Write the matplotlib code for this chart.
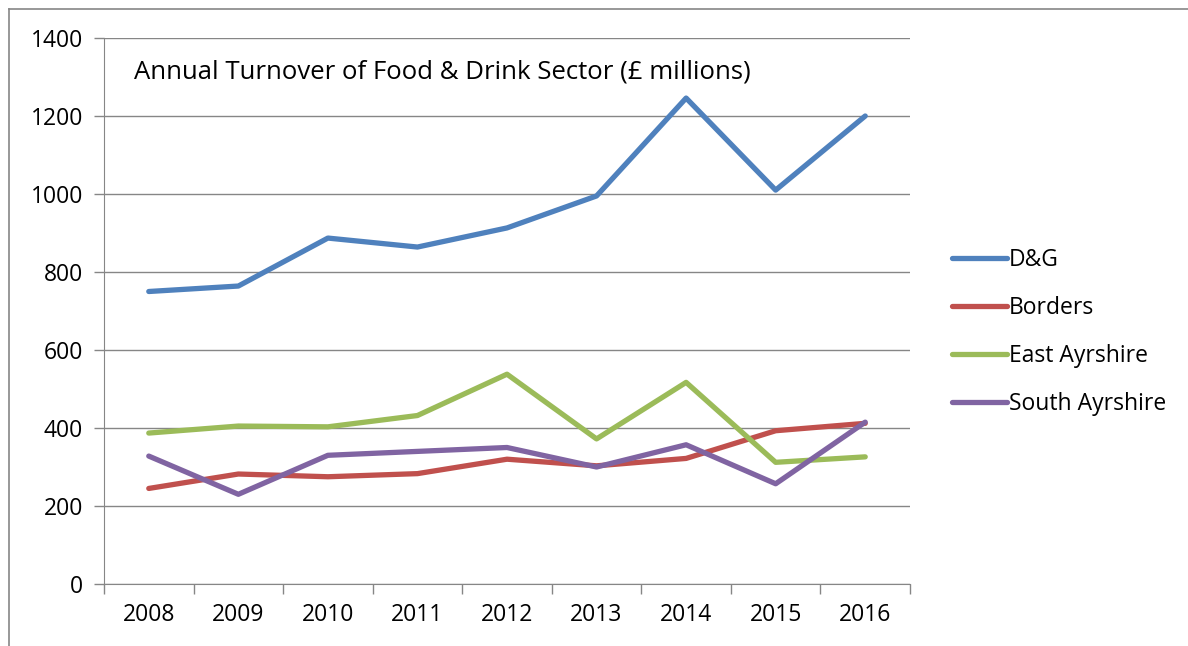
import matplotlib.pyplot as plt
from matplotlib.lines import Line2D

years = ["2008", "2009", "2010", "2011", "2012", "2013", "2014", "2015", "2016"]
dg = [750, 764, 887, 864, 913, 995, 1246, 1010, 1200]
borders = [245, 282, 275, 283, 320, 303, 322, 393, 412]
east_ayrshire = [387, 405, 403, 432, 538, 372, 517, 312, 326]
south_ayrshire = [328, 230, 330, 340, 350, 300, 357, 257, 415]

series = [
    ("D&G", dg, "#4F81BD"),
    ("Borders", borders, "#C0504D"),
    ("East Ayrshire", east_ayrshire, "#9BBB59"),
    ("South Ayrshire", south_ayrshire, "#8064A2"),
]

plt.rcParams["font.family"] = ["Open Sans", "DejaVu Sans"]

fig = plt.figure(figsize=(11.88, 6.46), dpi=100)
ax = fig.add_axes([104 / 1188, 1 - 584 / 646, (910 - 104) / 1188, (584 - 38) / 646])

x = list(range(len(years)))
for name, vals, color in series:
    ax.plot(x, vals, color=color, lw=3.8, label=name, solid_capstyle="round", solid_joinstyle="round")

ax.set_xlim(-0.5, len(years) - 0.5)
ax.set_ylim(0, 1400)
ax.set_yticks(range(0, 1401, 200))
ax.set_xticks(x)
ax.set_xticklabels(years)
ax.set_xticks([i - 0.5 for i in range(len(years) + 1)], minor=True)
ax.tick_params(axis="x", which="major", length=0, pad=14, labelsize=16.5)
ax.tick_params(axis="x", which="minor", length=7, color="#868686", width=1)
ax.tick_params(axis="y", length=7, color="#868686", width=1, labelsize=16.5, pad=8)

ax.grid(axis="y", color="#868686", lw=1)
ax.set_axisbelow(True)
for s in ["top", "right"]:
    ax.spines[s].set_visible(False)
for s in ["left", "bottom"]:
    ax.spines[s].set_color("#868686")

ax.text(0.037, 0.96, "Annual Turnover of Food & Drink Sector (£ millions)",
        transform=ax.transAxes, fontsize=18.5, va="top", ha="left")

ax.legend(loc="center left", bbox_to_anchor=(1.026, 0.462), frameon=False,
          fontsize=16.5, handlelength=2.4, handletextpad=0.1, labelspacing=1.05)

# chart area border
fig.add_artist(Line2D([9 / 1188, 9 / 1188], [0, 1 - 9 / 646], color="#868686", lw=1.2))
fig.add_artist(Line2D([9 / 1188, 1], [1 - 9 / 646, 1 - 9 / 646], color="#868686", lw=1.2))

fig.savefig("out.png", dpi=100)
